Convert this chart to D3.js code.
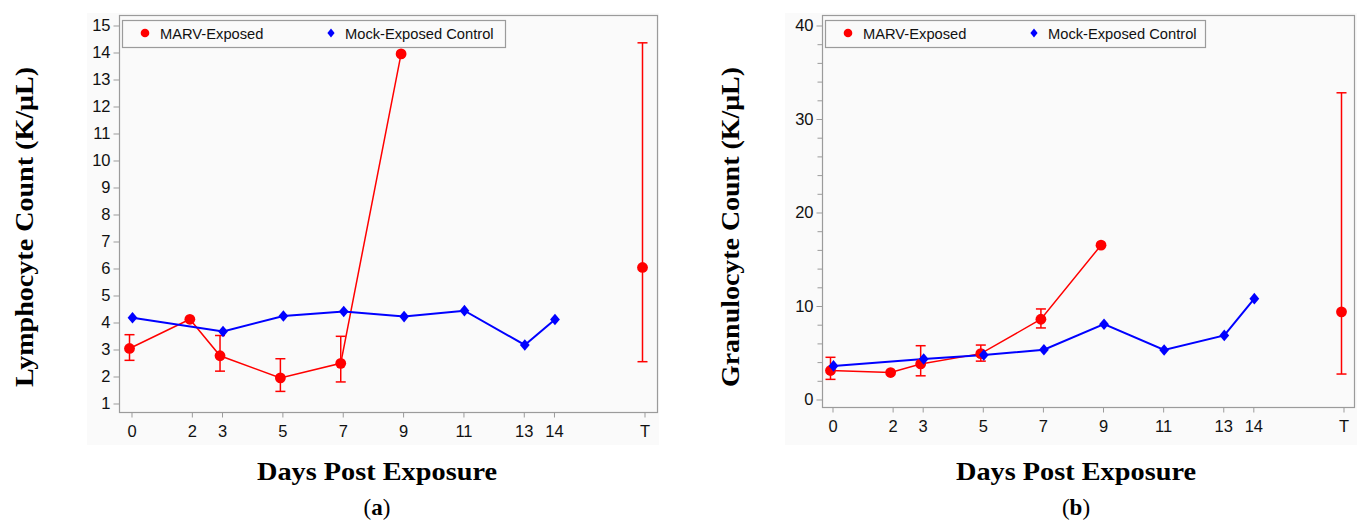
<!DOCTYPE html>
<html>
<head>
<meta charset="utf-8">
<script src="https://cdn.jsdelivr.net/npm/d3@7"></script>
<style>
  html, body { margin: 0; padding: 0; background: #ffffff; }
  svg { display: block; }
</style>
</head>
<body>
<svg id="chart" width="1359" height="523"></svg>
<script>
// ---------------- data ----------------
const dayTicks = [0, 2, 3, 5, 7, 9, 11, 13, 14, 17];
const dayLabels = ["0", "2", "3", "5", "7", "9", "11", "13", "14", "T"];
const seriesNames = ["MARV-Exposed", "Mock-Exposed Control"];

const marvDays = [0, 2, 3, 5, 7, 9, 17];   // 17 = terminal (T)
const mockDays = [0, 3, 5, 7, 9, 11, 13, 14];

// Panel (a): Lymphocyte count
const lymphTicks = [1, 2, 3, 4, 5, 6, 7, 8, 9, 10, 11, 12, 13, 14, 15];
const lymphMarv   = [3.02, 4.10, 2.75, 1.93, 2.47, 13.93, 6.02];
const lymphMarvLo = [2.58, null, 2.18, 1.43, 1.78, null, 2.53];
const lymphMarvHi = [3.53, null, 3.50, 2.64, 3.47, null, 14.34];
const lymphMock   = [4.16, 3.65, 4.22, 4.39, 4.20, 4.42, 3.15, 4.09];

// Panel (b): Granulocyte count
const granTicks = [0, 10, 20, 30, 40];
const granMinorTicks = [2, 4, 6, 8, 12, 14, 16, 18, 22, 24, 26, 28, 32, 34, 36, 38];
const granMarv   = [3.05, 2.83, 3.75, 4.85, 8.53, 16.45, 9.32];
const granMarvLo = [2.10, null, 2.48, 4.05, 7.60, null, 2.67];
const granMarvHi = [4.46, null, 5.70, 5.77, 9.63, null, 32.75];
const granMock   = [3.54, 4.28, 4.71, 5.27, 8.00, 5.24, 6.80, 10.73];

// ---------------- drawing ----------------
const svg = d3.select("#chart");
const RED = "#ff0000", BLUE = "#0000ff";
const FRAME = "#9b9b9b";
const SANS = "'Liberation Sans', Arial, sans-serif";
const SERIF = "'Liberation Serif', 'Times New Roman', serif";

function diamondPath(cx, cy, hw, hh) {
  return `M${cx},${cy - hh}L${cx + hw},${cy}L${cx},${cy + hh}L${cx - hw},${cy}Z`;
}

function drawPanel(cfg) {
  const g = svg.append("g");
  // panel background
  g.append("rect")
    .attr("x", cfg.bg[0]).attr("y", cfg.bg[1])
    .attr("width", cfg.bg[2] - cfg.bg[0]).attr("height", cfg.bg[3] - cfg.bg[1])
    .attr("fill", "#fafafa");

  const x = d3.scaleLinear().domain([0, 17]).range(cfg.xRange);
  const y = d3.scaleLinear().domain(cfg.yDomain).range(cfg.yRange);
  const [fl, ft, fr, fb] = cfg.frame;

  // frame
  g.append("rect")
    .attr("x", fl + 0.5).attr("y", ft + 0.5)
    .attr("width", fr - fl).attr("height", fb - ft)
    .attr("fill", "#fafafa").attr("stroke", FRAME).attr("stroke-width", 1.2);

  // x axis
  const xa = g.append("g").attr("transform", `translate(0.5,${fb + 0.5})`)
    .call(d3.axisBottom(x).tickValues(dayTicks)
      .tickFormat((d, i) => dayLabels[i]).tickSize(5).tickPadding(8));
  xa.select(".domain").remove();
  xa.selectAll("line").attr("stroke", FRAME);
  xa.selectAll("text").attr("font-family", SANS).attr("font-size", 16.5).attr("fill", "#111");

  // y axis minor ticks
  if (cfg.yMinor) {
    const ym = g.append("g").attr("transform", `translate(${fl + 0.5},0.5)`)
      .call(d3.axisLeft(y).tickValues(cfg.yMinor).tickSize(5).tickFormat(""));
    ym.select(".domain").remove();
    ym.selectAll("line").attr("stroke", FRAME);
  }
  // y axis
  const ya = g.append("g").attr("transform", `translate(${fl + 0.5},0.5)`)
    .call(d3.axisLeft(y).tickValues(cfg.yTicks).tickSize(6).tickPadding(3));
  ya.select(".domain").remove();
  ya.selectAll("line").attr("stroke", FRAME);
  ya.selectAll("text").attr("font-family", SANS).attr("font-size", 16.5).attr("fill", "#111");

  // legend
  const [ll, lt, lr, lb] = cfg.legend;
  g.append("rect").attr("x", ll + 0.5).attr("y", lt + 0.5)
    .attr("width", lr - ll).attr("height", lb - lt)
    .attr("fill", "#fafafa").attr("stroke", FRAME).attr("stroke-width", 1.2);
  const lcy = (lt + lb) / 2 - 0.5;
  g.append("circle").attr("cx", ll + 23).attr("cy", lcy).attr("r", 4.3).attr("fill", RED);
  g.append("text").attr("x", ll + 38).attr("y", lcy + 5.5)
    .attr("font-family", SANS).attr("font-size", 14.7).attr("fill", "#111")
    .text(seriesNames[0]);
  g.append("path").attr("d", diamondPath(ll + 209, lcy, 3.6, 4.6)).attr("fill", BLUE);
  g.append("text").attr("x", ll + 223).attr("y", lcy + 5.5)
    .attr("font-family", SANS).attr("font-size", 14.7).attr("fill", "#111")
    .text(seriesNames[1]);

  const dMarv = -1.5, dMock = 1.5; // small group dodge (px)
  const marvPts = marvDays.map((d, i) => ({ d, v: cfg.marv[i], lo: cfg.marvLo[i], hi: cfg.marvHi[i] }));
  const mockPts = mockDays.map((d, i) => ({ d, v: cfg.mock[i] }));

  const line = (off) => d3.line().x(p => x(p.d) + off).y(p => y(p.v));

  // MARV line (excludes terminal point)
  g.append("path").datum(marvPts.filter(p => p.d <= 14))
    .attr("d", line(dMarv)).attr("fill", "none").attr("stroke", RED).attr("stroke-width", 1.5);
  // Mock line
  g.append("path").datum(mockPts)
    .attr("d", line(dMock)).attr("fill", "none").attr("stroke", BLUE).attr("stroke-width", 2);

  // error bars
  const eb = marvPts.filter(p => p.lo != null);
  const ebg = g.append("g").attr("stroke", RED).attr("stroke-width", 1.5);
  ebg.selectAll("line.v").data(eb).join("line")
    .attr("x1", p => x(p.d) + dMarv).attr("x2", p => x(p.d) + dMarv)
    .attr("y1", p => y(p.lo)).attr("y2", p => y(p.hi));
  ebg.selectAll("line.t").data(eb).join("line")
    .attr("x1", p => x(p.d) + dMarv - 5).attr("x2", p => x(p.d) + dMarv + 5)
    .attr("y1", p => y(p.hi)).attr("y2", p => y(p.hi));
  ebg.selectAll("line.b").data(eb).join("line")
    .attr("x1", p => x(p.d) + dMarv - 5).attr("x2", p => x(p.d) + dMarv + 5)
    .attr("y1", p => y(p.lo)).attr("y2", p => y(p.lo));

  // markers
  g.selectAll("circle.m").data(marvPts).join("circle")
    .attr("cx", p => x(p.d) + dMarv).attr("cy", p => y(p.v)).attr("r", 5.4).attr("fill", RED);
  g.selectAll("path.k").data(mockPts).join("path")
    .attr("d", p => diamondPath(x(p.d) + dMock, y(p.v), 4.9, 5.8)).attr("fill", BLUE);

  // axis titles
  g.append("text")
    .attr("transform", `translate(${cfg.yTitlePos[0]},${cfg.yTitlePos[1]}) rotate(-90)`)
    .attr("text-anchor", "middle")
    .attr("font-family", SERIF).attr("font-weight", "bold").attr("font-size", 26)
    .attr("textLength", cfg.yTitleLen).attr("lengthAdjust", "spacingAndGlyphs")
    .attr("fill", "#000")
    .text(cfg.yTitle);
  g.append("text")
    .attr("x", cfg.xTitlePos[0]).attr("y", cfg.xTitlePos[1])
    .attr("text-anchor", "middle")
    .attr("font-family", SERIF).attr("font-weight", "bold").attr("font-size", 25)
    .attr("textLength", 240).attr("lengthAdjust", "spacingAndGlyphs")
    .attr("fill", "#000")
    .text("Days Post Exposure");
  const cap = g.append("text")
    .attr("x", cfg.xTitlePos[0]).attr("y", 515)
    .attr("text-anchor", "middle")
    .attr("font-family", SERIF).attr("font-size", 23).attr("fill", "#000");
  cap.append("tspan").text("(");
  cap.append("tspan").attr("font-weight", "bold").text(cfg.letter);
  cap.append("tspan").text(")");
}

drawPanel({
  bg: [87, 13, 659, 445],
  frame: [119, 15, 657, 412],
  xRange: [131, 644],
  yDomain: [1, 15], yRange: [403, 25],
  yTicks: lymphTicks,
  legend: [122, 20, 505, 47],
  marv: lymphMarv, marvLo: lymphMarvLo, marvHi: lymphMarvHi, mock: lymphMock,
  yTitle: "Lymphocyte Count (K/\u03BCL)", yTitlePos: [33, 227], yTitleLen: 320,
  xTitlePos: [377, 480], letter: "a"
});

drawPanel({
  bg: [785, 13, 1357, 445],
  frame: [822, 15, 1354, 407],
  xRange: [832, 1343],
  yDomain: [0, 40], yRange: [399, 25],
  yTicks: granTicks, yMinor: granMinorTicks,
  legend: [825, 20, 1205, 47],
  marv: granMarv, marvLo: granMarvLo, marvHi: granMarvHi, mock: granMock,
  yTitle: "Granulocyte Count (K/\u03BCL)", yTitlePos: [739, 227], yTitleLen: 320,
  xTitlePos: [1076, 480], letter: "b"
});
</script>
</body>
</html>
